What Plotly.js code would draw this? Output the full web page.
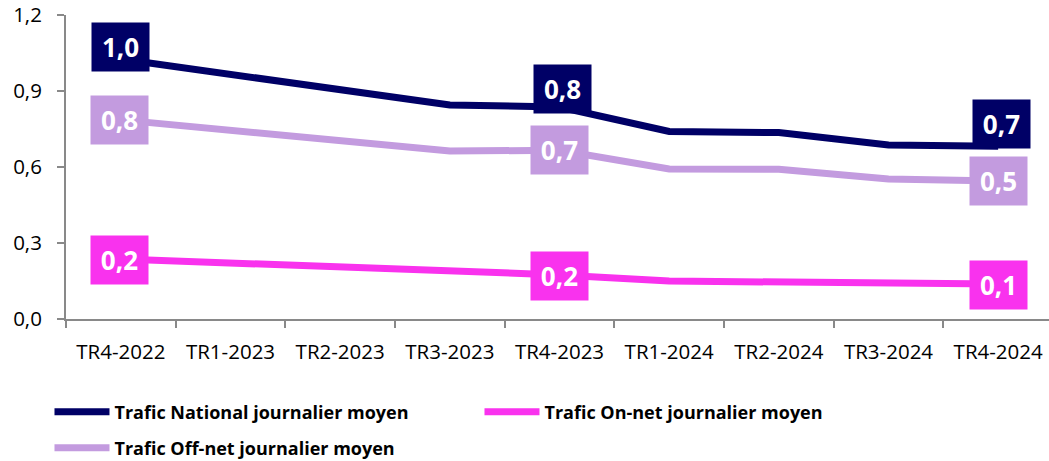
<!DOCTYPE html>
<html>
<head>
<meta charset="utf-8">
<script src="https://cdn.plot.ly/plotly-3.0.1.min.js"></script>
<style>
html,body{margin:0;padding:0;overflow:hidden;background:#fff;}
#chart{width:1053px;height:461px;}
</style>
</head>
<body>
<div id="chart"></div>
<script>
const categories = ["TR4-2022","TR1-2023","TR2-2023","TR3-2023","TR4-2023","TR1-2024","TR2-2024","TR3-2024","TR4-2024"];
const nationalValues = [1.026, 0.965, 0.905, 0.845, 0.837, 0.740, 0.736, 0.687, 0.682];
const offnetValues   = [0.786, 0.747, 0.703, 0.663, 0.666, 0.592, 0.591, 0.553, 0.545];
const onnetValues    = [0.237, 0.222, 0.202, 0.186, 0.174, 0.150, 0.146, 0.138, 0.138];
const seriesNames = ["Trafic National journalier moyen","Trafic On-net journalier moyen","Trafic Off-net journalier moyen"];
const labelledIndices = [0, 4, 8];

const cNat = "#000066", cOn = "#F932EE", cOff = "#C39BDF";
const fam = "Open Sans, Noto Sans, sans-serif";

function fmt(v){ return v.toFixed(1).replace(".", ","); }

const traces = [
  {x: categories, y: nationalValues, name: seriesNames[0], type: "scatter", mode: "lines",
   line: {color: cNat, width: 7}, legend: "legend"},
  {x: categories, y: onnetValues, name: seriesNames[1], type: "scatter", mode: "lines",
   line: {color: cOn, width: 7}, legend: "legend"},
  {x: categories, y: offnetValues, name: seriesNames[2], type: "scatter", mode: "lines",
   line: {color: cOff, width: 7}, legend: "legend2"}
];

const annotations = [];
const shiftsNat = [12, 18, 22];
labelledIndices.forEach((idx, k) => {
  const common = {xref: "x", yref: "y", showarrow: false, xanchor: "center", yanchor: "middle",
    width: 57, height: 48, borderpad: 0,
    font: {family: fam, size: 26, color: "#ffffff", weight: "bold"}};
  annotations.push(Object.assign({}, common, {x: categories[idx], y: nationalValues[idx],
    text: fmt(nationalValues[idx]), bgcolor: cNat, yshift: shiftsNat[k], xshift: k === 2 ? 3 : (k === 1 ? 3 : 0)}));
  annotations.push(Object.assign({}, common, {x: categories[idx], y: offnetValues[idx],
    text: fmt(offnetValues[idx]), bgcolor: cOff, yshift: 0, xshift: k === 0 ? -1 : 0}));
  annotations.push(Object.assign({}, common, {x: categories[idx], y: onnetValues[idx],
    text: fmt(onnetValues[idx]), bgcolor: cOn, yshift: -1, xshift: k === 0 ? -1 : 0}));
});

const legendFont = {family: fam, size: 18, color: "#000000", weight: "bold"};

const layout = {
  width: 1053, height: 461,
  margin: {l: 66, r: 0, t: 15, b: 142, autoexpand: false},
  paper_bgcolor: "#ffffff", plot_bgcolor: "#ffffff",
  separators: ", ",
  showlegend: true,
  xaxis: {
    type: "category", range: [-0.5, 8.5], showgrid: false, zeroline: false,
    showline: true, linecolor: "#898989", linewidth: 2,
    ticks: "outside", tickson: "boundaries", ticklen: 7, tickwidth: 2, tickcolor: "#898989",
    ticklabelstandoff: 13,
    tickfont: {family: fam, size: 20.5, color: "#000000"}
  },
  yaxis: {
    range: [0, 1.2], dtick: 0.3, tick0: 0, tickformat: ".1f",
    showgrid: false, zeroline: false,
    showline: true, linecolor: "#898989", linewidth: 2,
    ticks: "outside", ticklen: 7, tickwidth: 2, tickcolor: "#898989",
    ticklabelstandoff: 11,
    tickfont: {family: fam, size: 20.5, color: "#000000"}
  },
  legend: {
    orientation: "h", xref: "container", yref: "container",
    x: 0.047, xanchor: "left", y: 0.106, yanchor: "middle",
    entrywidth: 360, entrywidthmode: "pixels", itemwidth: 55,
    font: legendFont, bgcolor: "rgba(0,0,0,0)", traceorder: "normal"
  },
  legend2: {
    orientation: "h", xref: "container", yref: "container",
    x: 0.047, xanchor: "left", y: 0.028, yanchor: "middle",
    itemwidth: 55, font: legendFont, bgcolor: "rgba(0,0,0,0)"
  },
  annotations: annotations
};

Plotly.newPlot("chart", traces, layout, {displayModeBar: false, staticPlot: true});
</script>
</body>
</html>
